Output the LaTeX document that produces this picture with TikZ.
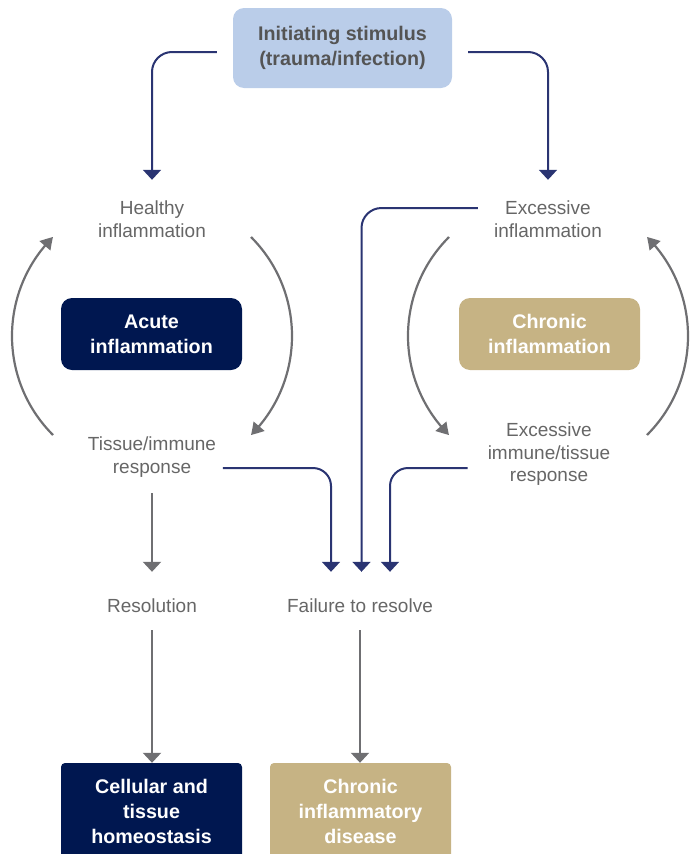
\documentclass[tikz,border=0pt]{standalone}
\usepackage{fontspec}
\setmainfont{Liberation Sans}
\usetikzlibrary{arrows.meta,bending}
\definecolor{navyline}{HTML}{2A3472}
\definecolor{navybox}{HTML}{001750}
\definecolor{tanbox}{HTML}{C6B384}
\definecolor{bluebox}{HTML}{BACDE9}
\definecolor{greytext}{HTML}{666666}
\definecolor{greyline}{HTML}{6F6F72}
\definecolor{stimtext}{HTML}{545454}
\begin{document}
\begin{tikzpicture}[x=1pt,y=-1pt,
  lbl/.style={inner sep=0pt, align=center, text=greytext, font=\fontsize{19}{22.5}\selectfont},
  box/.style={inner sep=0pt, align=center, text=white, font=\fontsize{19.7}{25}\selectfont\bfseries, minimum width=181pt, rounded corners=11pt},
  navyarrow/.style={draw=navyline, line width=2pt, -{Triangle[width=18pt,length=10pt]}},
  greyarrow/.style={draw=greyline, line width=2.2pt, -{Triangle[width=18pt,length=10pt]}},
  cyclearrow/.style={draw=greyline, line width=2.2pt, -{Triangle[width=14pt,length=12pt,bend]}}]
\useasboundingbox (0,0) rectangle (697,854);
\clip (0,0) rectangle (697,854);

\node[box, fill=bluebox, text=stimtext, minimum width=219pt, minimum height=80pt] (stim) at (342.5,48) {Initiating stimulus\\(trauma/infection)};

\node[lbl, minimum height=78pt] (healthy) at (152,219) {Healthy\\inflammation};
\node[lbl, minimum height=78pt] (excess) at (548,219) {Excessive\\inflammation};

\node[box, fill=navybox, minimum height=72pt] (acute) at (151.5,334) {Acute\\inflammation};
\node[box, fill=tanbox, minimum height=72pt] (chronic) at (549.5,334) {Chronic\\inflammation};

\node[lbl, minimum height=71.4pt] (tissue) at (152,457.3) {Tissue/immune\\response};
\node[lbl] (exresp) at (549,454.5) {Excessive\\immune/tissue\\response};

\node[lbl, anchor=base, text height=40pt, text depth=18pt] (resol) at (152,612) {Resolution};
\node[lbl, anchor=base, text height=40pt, text depth=18pt] (fail) at (360,612) {Failure to resolve};

\node[box, fill=navybox, rounded corners=4pt, minimum height=96pt] (homeo) at (151.5,811) {Cellular and\\tissue\\homeostasis};
\node[box, fill=tanbox, rounded corners=4pt, minimum height=96pt] (disease) at (360.5,811) {Chronic\\inflammatory\\disease};

% navy connectors
\draw[navyarrow, rounded corners=20pt] ([shift={(-16,4)}]stim.west) -| (healthy.north);
\draw[navyarrow, rounded corners=20pt] ([shift={(16,4)}]stim.east) -| (excess.north);
\draw[navyarrow, rounded corners=20pt] ([shift={(-16,-11)}]excess.west) -| ([xshift=1.5pt]fail.north);
\draw[navyarrow, rounded corners=18pt] ([shift={(6.5,10.7)}]tissue.east) -| ([xshift=-29pt]fail.north);
\draw[navyarrow, rounded corners=18pt] ([shift={(-20,13.5)}]exresp.west) -| ([xshift=30pt]fail.north);

% grey vertical connectors
\draw[greyarrow] (tissue.south) -- (resol.north);
\draw[greyarrow] (resol.south) -- (resol.south |- homeo.north);
\draw[greyarrow] (fail.south) -- (fail.south |- disease.north);

% cycle arcs
\coordinate (lc) at (152,336);
\coordinate (rc) at (548,336);
\draw[cyclearrow] ([shift={(135:140)}]lc) arc[start angle=135, end angle=225, radius=140];
\draw[cyclearrow] ([shift={(-45:140)}]lc) arc[start angle=-45, end angle=45, radius=140];
\draw[cyclearrow] ([shift={(225:140)}]rc) arc[start angle=225, end angle=135, radius=140];
\draw[cyclearrow] ([shift={(45:140)}]rc) arc[start angle=45, end angle=-45, radius=140];
\end{tikzpicture}
\end{document}
